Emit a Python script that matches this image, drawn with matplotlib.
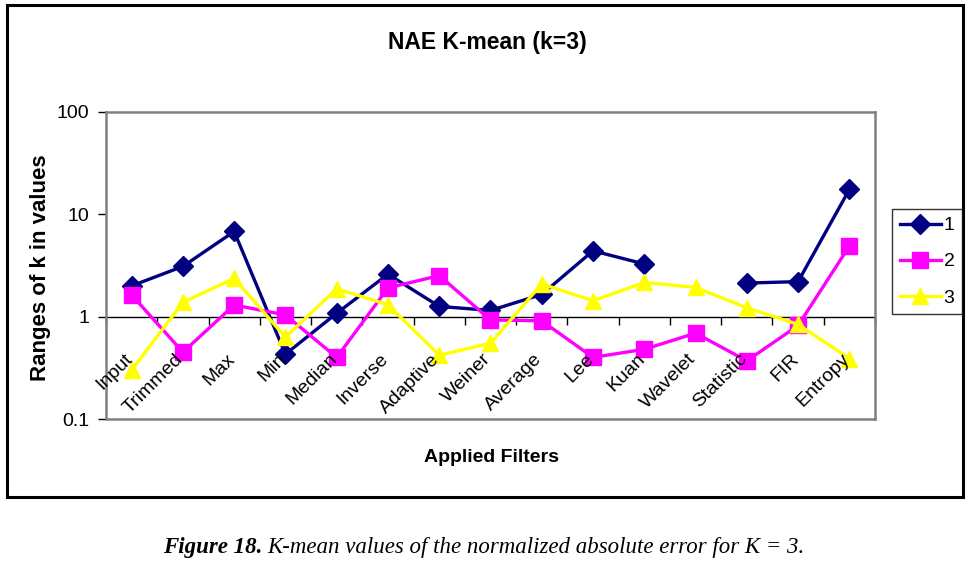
import numpy as np
import matplotlib
matplotlib.use('Agg')
import matplotlib.pyplot as plt
from matplotlib.patches import Rectangle
from matplotlib.transforms import ScaledTranslation

plt.rcParams['font.family'] = ['Liberation Sans', 'DejaVu Sans']

filters = ['Input', 'Trimmed', 'Max', 'Min', 'Median', 'Inverse', 'Adaptive',
           'Weiner', 'Average', 'Lee', 'Kuan', 'Wavelet', 'Statistic', 'FIR', 'Entropy']
k1 = [2.0, 3.1, 6.8, 0.43, 1.08, 2.6, 1.26, 1.15, 1.65, 4.4, 3.27, np.nan, 2.13, 2.2, 17.5]
k2 = [1.63, 0.45, 1.3, 1.04, 0.40, 1.91, 2.52, 0.93, 0.91, 0.40, 0.48, 0.69, 0.37, 0.82, 4.9]
k3 = [0.30, 1.38, 2.37, 0.63, 1.87, 1.31, 0.42, 0.55, 2.09, 1.43, 2.16, 1.93, 1.22, 0.84, 0.39]
series_names = ['1', '2', '3']

fig = plt.figure(figsize=(9.7, 5.67), dpi=100)
ax = fig.add_axes([106/970, 1 - 419/567, 769/970, 307/567])

x = np.arange(len(filters))
ax.plot(x, k1, color='#000080', lw=2.4, marker='D', ms=10, label=series_names[0])
ax.plot(x, k2, color='#FF00FF', lw=2.4, marker='s', ms=11.5, label=series_names[1])
ax.plot(x, k3, color='#FFFF00', lw=2.4, marker='^', ms=12, label=series_names[2])

ax.set_yscale('log')
ax.set_ylim(0.1, 100)
ax.set_xlim(-0.5, len(filters) - 0.5)
ax.set_yticks([0.1, 1, 10, 100])
ax.set_yticklabels(['0.1', '1', '10', '100'])
ax.yaxis.set_minor_locator(matplotlib.ticker.NullLocator())
ax.tick_params(axis='y', length=6, width=1, color='black', pad=6, labelsize=14)
ax.set_xticks([])
for s in ax.spines.values():
    s.set_color('#808080')
    s.set_linewidth(1.8)

# category axis crossing at 1
sec = ax.secondary_xaxis(1/3)
sec.set_xticks(np.arange(len(filters) + 1) - 0.5)
sec.tick_params(axis='x', direction='out', length=6, width=1, color='black', labelbottom=False)
sec.spines['bottom'].set_color('black')
sec.spines['bottom'].set_linewidth(1)

off = ScaledTranslation(-0.08, -0.34, fig.dpi_scale_trans)
for i, name in enumerate(filters):
    ax.text(i, 1, name, transform=ax.transData + off, rotation=45,
            ha='right', va='top', rotation_mode='anchor', fontsize=14)

fig.text(487/970, 1 - 42/567, 'NAE K-mean (k=3)', ha='center', va='center',
         fontsize=16.5, fontweight='bold')
fig.text(492/970, 1 - 457/567, 'Applied Filters', ha='center', va='center',
         fontsize=14, fontweight='bold')
fig.text(41/970, 1 - 268/567, 'Ranges of k in values', ha='center', va='center',
         rotation=90, fontsize=16, fontweight='bold')

leg = fig.legend(loc='upper left', bbox_to_anchor=(892/970, 1 - 209/567),
                 fontsize=14, frameon=True, fancybox=False, handlelength=2.1,
                 handletextpad=0.15, labelspacing=0.95, borderpad=0.4, borderaxespad=0)
leg.get_frame().set_edgecolor('black')
leg.get_frame().set_linewidth(1)

fig.patches.append(Rectangle((7/970, 1 - 497/567), 956/970, 492/567, transform=fig.transFigure,
                             fill=False, edgecolor='black', lw=2.2))

# caption
renderer = fig.canvas.get_renderer()
t1 = fig.text(163/970, 1 - 548/567, 'Figure 18.', ha='left', va='center', fontsize=16.5,
              family='Liberation Serif', style='italic', fontweight='bold')
bb = t1.get_window_extent(renderer)
fig.text((bb.x1 + 5)/970, 1 - 548/567, 'K-mean values of the normalized absolute error for K = 3.',
         ha='left', va='center', fontsize=16.5, family='Liberation Serif', style='italic')

fig.savefig('out.png', dpi=100)
